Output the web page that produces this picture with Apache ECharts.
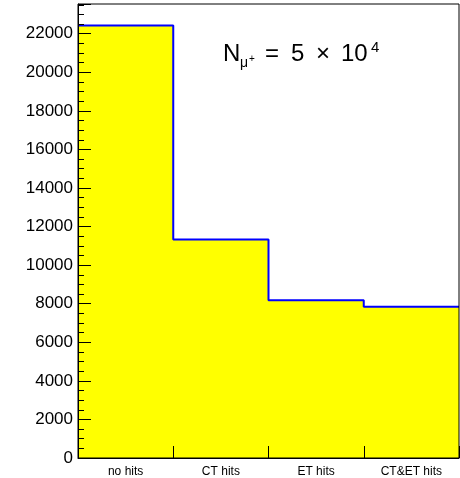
<!DOCTYPE html>
<html>
<head>
<meta charset="utf-8">
<script src="https://cdn.jsdelivr.net/npm/echarts@6/dist/echarts.min.js"></script>
<style>
html,body{margin:0;padding:0;background:#fff;}
#chart{width:460px;height:478px;}
</style>
</head>
<body>
<div id="chart"></div>
<script>
// Data
var categories = ['no hits', 'CT hits', 'ET hits', 'CT&ET hits'];
var counts = [22420, 11330, 8180, 7840];
var yMax = 23540;

// Build step outline points (bin edges 0..4)
var stepData = [];
for (var i = 0; i < counts.length; i++) stepData.push([i, counts[i]]);
stepData.push([counts.length, counts[counts.length - 1]]);

var FONT = 'Liberation Sans, Arial, Helvetica, sans-serif';
var chart = echarts.init(document.getElementById('chart'), null, {renderer: 'canvas'});
chart.setOption({
  animation: false,
  backgroundColor: '#ffffff',
  grid: {left: 78, right: 1, top: 4, bottom: 20, show: true, z: 10,
         backgroundColor: 'transparent', borderColor: '#000', borderWidth: 1},
  xAxis: [
    {type: 'value', min: 0, max: categories.length, show: false},
    {type: 'category', data: categories, position: 'bottom', z: 10,
     boundaryGap: true,
     axisLine: {show: true, lineStyle: {color: '#000', width: 1}},
     axisTick: {show: true, inside: true, length: 12, lineStyle: {color: '#000'}},
     axisLabel: {fontFamily: FONT, fontSize: 12, color: '#000', margin: 8},
     splitLine: {show: false}}
  ],
  yAxis: {
    type: 'value', min: 0, max: yMax, interval: 2000, z: 10,
    axisLine: {show: true, lineStyle: {color: '#000', width: 1}},
    axisTick: {show: true, inside: true, length: 13, lineStyle: {color: '#000'}},
    minorTick: {show: true, splitNumber: 4, length: 6, lineStyle: {color: '#000'}},
    axisLabel: {fontFamily: FONT, fontSize: 17, color: '#000', margin: 5,
                showMaxLabel: false,
                formatter: function (v) { return v % 2000 === 0 ? String(v) : ''; }},
    splitLine: {show: false}
  },
  series: [{
    type: 'line', xAxisIndex: 0, step: 'end', symbol: 'none',
    data: stepData,
    lineStyle: {color: '#0000ff', width: 2},
    areaStyle: {color: '#ffff00', opacity: 1}
  }],
  graphic: [
    {type: 'text', left: 223, top: 42, style: {text: 'N', font: '24px ' + FONT, fill: '#000'}},
    {type: 'text', left: 240, top: 56, style: {text: 'μ', font: '14px ' + FONT, fill: '#000'}},
    {type: 'text', left: 249, top: 54, style: {text: '+', font: '10px ' + FONT, fill: '#000'}},
    {type: 'text', left: 265, top: 42, style: {text: '=', font: '24px ' + FONT, fill: '#000'}},
    {type: 'text', left: 291, top: 42, style: {text: '5', font: '24px ' + FONT, fill: '#000'}},
    {type: 'text', left: 316, top: 42, style: {text: '×', font: '24px ' + FONT, fill: '#000'}},
    {type: 'text', left: 341, top: 42, style: {text: '10', font: '24px ' + FONT, fill: '#000'}},
    {type: 'text', left: 371, top: 40, style: {text: '4', font: '15px ' + FONT, fill: '#000'}}
  ]
});
</script>
</body>
</html>
